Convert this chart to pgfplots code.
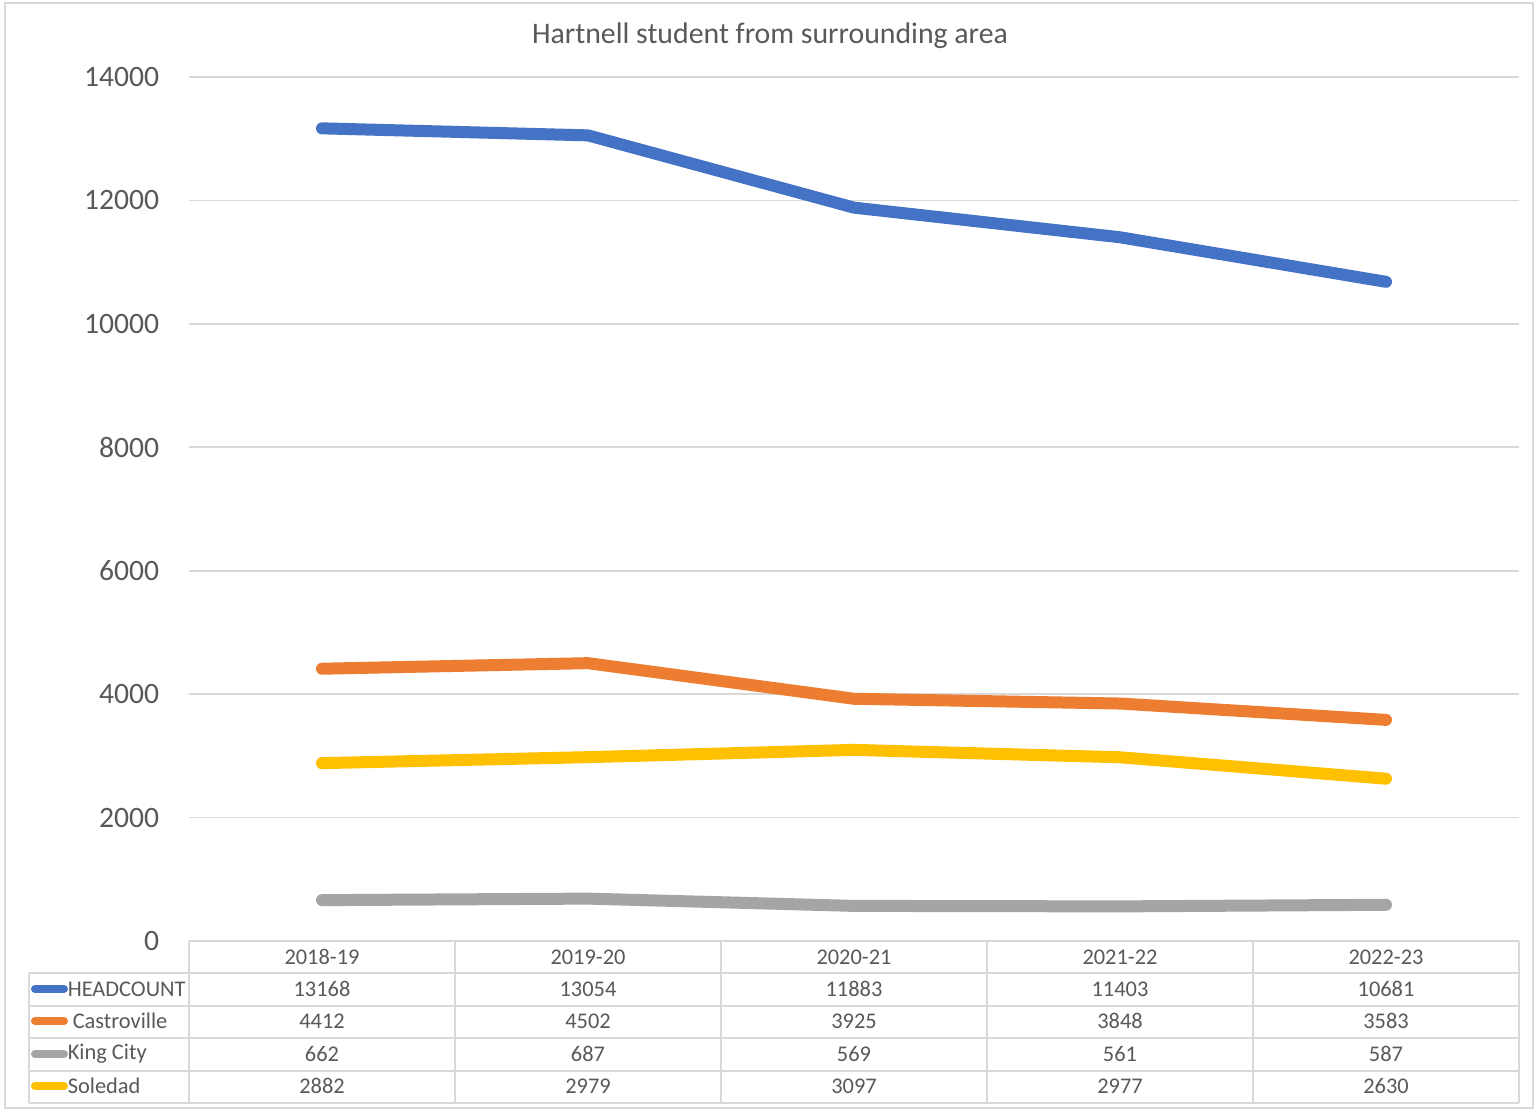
\documentclass[border=0pt]{standalone}
\usepackage{pgfplots}
\pgfplotsset{compat=1.18}
\usepackage{fontspec}
\setmainfont{Carlito}

\definecolor{cblue}{HTML}{4472C4}
\definecolor{corange}{HTML}{ED7D31}
\definecolor{cgray}{HTML}{A5A5A5}
\definecolor{cyellow}{HTML}{FFC000}
\definecolor{gridc}{HTML}{D9D9D9}
\definecolor{txt}{HTML}{595959}

\begin{document}
% 1 px of the reference = 0.25pt
\begin{tikzpicture}[x=0.25pt,y=-0.25pt]
\fill[white] (0,0) rectangle (1538,1110);
\draw[gridc, line width=0.4pt] (5,3) rectangle (1533,1108);

\node[text=txt, font=\fontsize{7.45}{9}\selectfont] at (770,36) {Hartnell student from surrounding area};

\begin{axis}[
  at={(47.25pt,-235.25pt)}, anchor=south west,
  scale only axis, width=332.5pt, height=216pt,
  xmin=-0.5, xmax=4.5, ymin=0, ymax=14000,
  axis line style={draw=none},
  major tick length=0pt,
  xtick={0,1,2,3,4},
  xticklabels={2018-19,2019-20,2020-21,2021-22,2022-23},
  ytick={0,2000,...,14000},
  scaled y ticks=false,
  ymajorgrids, grid style={gridc, line width=0.4pt},
  /pgf/number format/assume math mode=true,
  /pgf/number format/1000 sep={},
  yticklabel style={font=\fontsize{7.4}{9}\selectfont, text=txt, inner sep=0pt, xshift=-7.25pt},
  xticklabel style={font=\fontsize{5.6}{6.5}\selectfont, text=txt, inner sep=0pt, anchor=center, yshift=-4pt},
]
\addplot[cblue, line width=3pt, line cap=round, line join=round] coordinates {(0,13168)(1,13054)(2,11883)(3,11403)(4,10681)};
\addplot[corange, line width=3pt, line cap=round, line join=round] coordinates {(0,4412)(1,4502)(2,3925)(3,3848)(4,3583)};
\addplot[cgray, line width=3pt, line cap=round, line join=round] coordinates {(0,662)(1,687)(2,569)(3,561)(4,587)};
\addplot[cyellow, line width=3pt, line cap=round, line join=round] coordinates {(0,2882)(1,2979)(2,3097)(3,2977)(4,2630)};
\end{axis}

% data table below the plot
\begin{scope}[gridc, line width=0.4pt]
\draw (189,941) -- (1519,941);
\foreach \y in {973,1006,1038,1071,1103} \draw (29,\y) -- (1519,\y);
\draw (29,973) -- (29,1103);
\foreach \x in {189,455,721,987,1253,1519} \draw (\x,941) -- (\x,1103);
\end{scope}

\begin{scope}[every node/.style={text=txt, font=\fontsize{5.6}{6.5}\selectfont, inner sep=0pt}]
\foreach \y/\a/\b/\c/\d/\e in {989/13168/13054/11883/11403/10681,
  1021/4412/4502/3925/3848/3583, 1054/662/687/569/561/587, 1086/2882/2979/3097/2977/2630}{
  \node at (322,\y) {\a};
  \node at (588,\y) {\b};
  \node at (854,\y) {\c};
  \node at (1120,\y) {\d};
  \node at (1386,\y) {\e};
}
\draw[cblue, line width=2pt, line cap=round] (35,989) -- (64,989);
\draw[corange, line width=2pt, line cap=round] (35,1021) -- (64,1021);
\draw[cgray, line width=2pt, line cap=round] (35,1054) -- (64,1054);
\draw[cyellow, line width=2pt, line cap=round] (35,1086) -- (64,1086);
\node[anchor=west] at (67,989) {HEADCOUNT};
\node[anchor=west] at (72,1021) {Castroville};
\node[anchor=west] at (67,1054) {King City};
\node[anchor=west] at (67,1086) {Soledad};
\end{scope}
\end{tikzpicture}
\end{document}
